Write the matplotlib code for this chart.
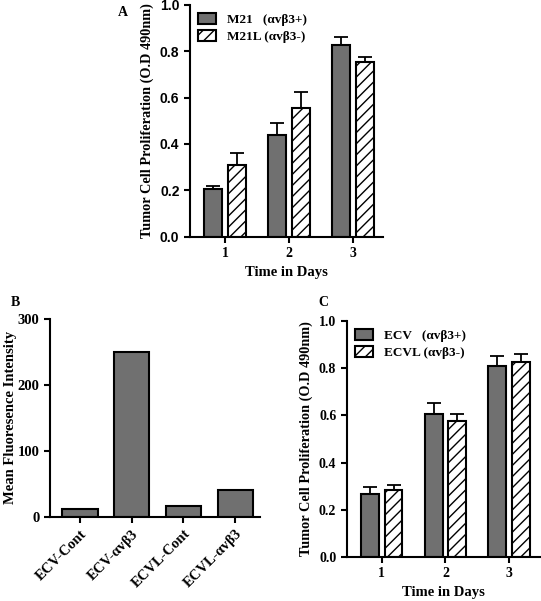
import numpy as np
import matplotlib
matplotlib.use('Agg')
import matplotlib.pyplot as plt

plt.rcParams['font.family'] = ['Liberation Serif', 'DejaVu Serif']
plt.rcParams['font.weight'] = 'bold'
plt.rcParams['hatch.linewidth'] = 1.0

# data
days = [1, 2, 3]
m21 = [0.205, 0.44, 0.825]
m21_err = [0.015, 0.05, 0.035]
m21l = [0.31, 0.555, 0.755]
m21l_err = [0.05, 0.07, 0.02]

mfi_labels = ['ECV-Cont', 'ECV-αvβ3', 'ECVL-Cont', 'ECVL-αvβ3']
mfi = [12, 250, 16, 40]

ecv = [0.265, 0.605, 0.81]
ecv_err = [0.03, 0.045, 0.04]
ecvl = [0.285, 0.575, 0.825]
ecvl_err = [0.02, 0.03, 0.035]

GRAY = '#707070'
W = 0.28
OFF = 0.185

fig = plt.figure(figsize=(5.41, 6.01), dpi=100)


def style(ax):
    for s in ['top', 'right']:
        ax.spines[s].set_visible(False)
    for s in ['left', 'bottom']:
        ax.spines[s].set_linewidth(1.5)
    ax.tick_params(width=1.5, length=4)


def prolif(ax, a, ae, b, be, la, lb, xr, tickfont):
    x = np.array(days)
    ax.bar(x - OFF, a, W, color=GRAY, edgecolor='black', linewidth=1.5, label=la, zorder=2)
    ax.bar(x + OFF, b, W, color='white', edgecolor='black', linewidth=1.5,
           hatch='///', label=lb, zorder=2)
    ax.errorbar(x - OFF, a, yerr=[np.zeros(3), ae], fmt='none', ecolor='black',
                elinewidth=1.3, capsize=5, capthick=1.3, zorder=1)
    ax.errorbar(x + OFF, b, yerr=[np.zeros(3), be], fmt='none', ecolor='black',
                elinewidth=1.3, capsize=5, capthick=1.3, zorder=1)
    ax.set_ylim(0, 1.0)
    ax.set_xlim(0.45, xr)
    ax.set_xticks(days)
    ax.set_yticks(np.arange(0, 1.01, 0.2))
    ax.set_yticklabels(['%.1f' % v for v in np.arange(0, 1.01, 0.2)],
                       family=tickfont, fontweight='bold', fontsize=10)
    ax.set_xticklabels([str(d) for d in days], fontsize=10, fontweight='bold')
    ax.set_xlabel('Time in Days', fontsize=10.5, fontweight='bold')
    ax.set_ylabel('Tumor Cell Proliferation (O.D 490nm)', fontsize=10.3, fontweight='bold')
    style(ax)
    ax.legend(loc='upper left', frameon=False, handlelength=1.4,
              handleheight=0.9, borderaxespad=0.2, labelspacing=0.3,
              prop={'weight': 'bold', 'size': 9.5})


# Panel A
axA = fig.add_axes([0.351, 0.606, 0.357, 0.386])
prolif(axA, m21, m21_err, m21l, m21l_err,
       'M21   (αvβ3+)', 'M21L (αvβ3-)', 3.47, 'Liberation Sans')
fig.text(123 / 541, 1 - 12 / 601, 'A', fontsize=10, fontweight='bold', ha='center', va='center')

# Panel B
axB = fig.add_axes([0.0924, 0.140, 0.388, 0.3295])
xb = np.arange(1, 5)
axB.bar(xb, mfi, 0.68, color=GRAY, edgecolor='black', linewidth=1.5)
axB.set_xlim(0.42, 4.48)
axB.set_ylim(0, 300)
axB.set_yticks([0, 100, 200, 300])
axB.set_yticklabels(['0', '100', '200', '300'], fontsize=10.5, fontweight='bold')
axB.set_xticks(xb)
axB.set_xticklabels(mfi_labels, rotation=45, ha='right', rotation_mode='anchor',
                    fontsize=10.5, fontweight='bold')
axB.set_ylabel('Mean Fluoresence Intensity', fontsize=10.5, fontweight='bold')
axB.yaxis.set_label_coords(-0.155, 0.5)
style(axB)
fig.text(15 / 541, 1 - 303 / 601, 'B', fontsize=10, fontweight='bold', ha='center', va='center')

# Panel C
axC = fig.add_axes([0.641, 0.0732, 0.359, 0.393])
prolif(axC, ecv, ecv_err, ecvl, ecvl_err,
       'ECV   (αvβ3+)', 'ECVL (αvβ3-)', 3.5, 'Liberation Serif')
fig.text(323 / 541, 1 - 303 / 601, 'C', fontsize=10, fontweight='bold', ha='center', va='center')

fig.savefig('out.png', dpi=100)
